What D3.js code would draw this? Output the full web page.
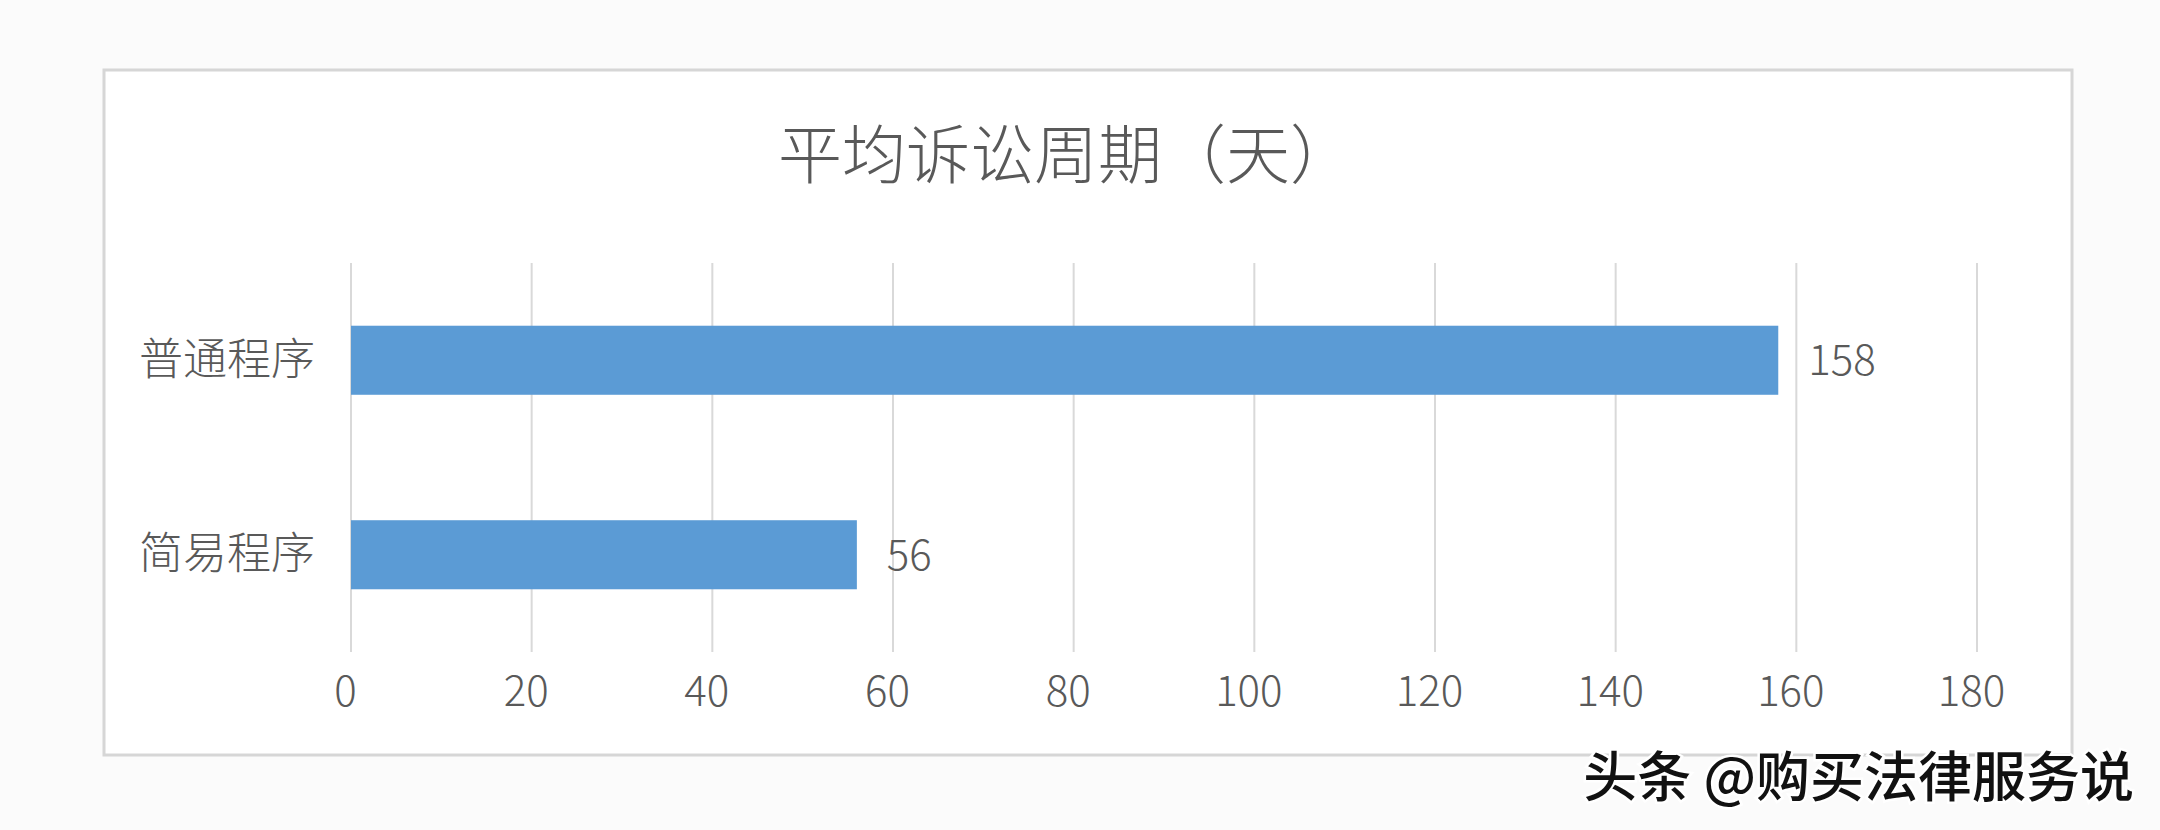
<!DOCTYPE html>
<html>
<head>
<meta charset="utf-8">
<script src="https://cdn.jsdelivr.net/npm/d3@7/dist/d3.min.js"></script>
<style>
  html, body { margin: 0; padding: 0; background: #fbfbfb; }
  svg { display: block; }
</style>
</head>
<body>
<div id="chart"></div>
<script>
var categories = ["普通程序", "简易程序"];
var values = [158, 56];
var ticks = [0, 20, 40, 60, 80, 100, 120, 140, 160, 180];
var title = "平均诉讼周期（天）";
var watermark = "头条 @购买法律服务说";

(function () {
    var W = 2160, H = 830;
    var font = "'Noto Sans CJK SC', 'Noto Sans', sans-serif";

    var svg = d3.select("#chart").append("svg")
        .attr("width", W)
        .attr("height", H);

    // chart frame
    svg.append("rect")
        .attr("x", 104).attr("y", 70)
        .attr("width", 1968).attr("height", 685)
        .attr("fill", "#ffffff")
        .attr("stroke", "#d6d6d6")
        .attr("stroke-width", 3);

    svg.append("text")
        .attr("x", 1066).attr("y", 178)
        .attr("text-anchor", "middle")
        .attr("fill", "#595959")
        .style("font-family", font)
        .style("font-weight", 300)
        .style("font-size", "64px")
        .text(title);

    var x = d3.scaleLinear().domain([0, 180]).range([351, 1977]);
    var y = d3.scaleBand().domain(categories).range([263, 652])
        .paddingInner(0.645).paddingOuter(0.3225);

    // gridlines
    svg.append("g")
        .selectAll("line")
        .data(ticks)
        .enter().append("line")
        .attr("x1", d => x(d)).attr("x2", d => x(d))
        .attr("y1", 263).attr("y2", 652)
        .attr("stroke", "#d9d9d9")
        .attr("stroke-width", 2);

    // x axis labels
    var xAxis = svg.append("g")
        .attr("transform", "translate(0,652)")
        .call(d3.axisBottom(x).tickValues(ticks).tickSize(0).tickPadding(24));
    xAxis.select(".domain").remove();
    xAxis.selectAll("text")
        .attr("fill", "#595959")
        .attr("dx", -6)
        .style("font-family", font)
        .style("font-weight", 300)
        .style("font-size", "42px");

    // y axis labels
    var yAxis = svg.append("g")
        .attr("transform", "translate(351,0)")
        .call(d3.axisLeft(y).tickSize(0).tickPadding(36));
    yAxis.select(".domain").remove();
    yAxis.selectAll("text")
        .attr("fill", "#595959")
        .attr("dy", "0.33em")
        .style("font-family", font)
        .style("font-weight", 300)
        .style("font-size", "44px");

    var rows = categories.map((c, i) => ({cat: c, value: values[i]}));

    svg.append("g")
        .selectAll("rect")
        .data(rows)
        .enter().append("rect")
        .attr("x", x(0))
        .attr("y", d => y(d.cat))
        .attr("width", d => x(d.value) - x(0))
        .attr("height", y.bandwidth())
        .attr("fill", "#5b9bd5");

    svg.append("g")
        .selectAll("text")
        .data(rows)
        .enter().append("text")
        .attr("x", d => x(d.value) + 30)
        .attr("y", d => y(d.cat) + y.bandwidth() / 2)
        .attr("dy", "0.36em")
        .attr("fill", "#595959")
        .style("font-family", font)
        .style("font-weight", 300)
        .style("font-size", "42px")
        .text(d => d.value);

    // watermark
    svg.append("text")
        .attr("x", 2134).attr("y", 797)
        .attr("text-anchor", "end")
        .attr("fill", "#111111")
        .attr("stroke", "#ffffff")
        .attr("stroke-width", 5)
        .attr("paint-order", "stroke")
        .style("font-family", font)
        .style("font-weight", 500)
        .style("font-size", "54px")
        .text(watermark);
})();
</script>
</body>
</html>
